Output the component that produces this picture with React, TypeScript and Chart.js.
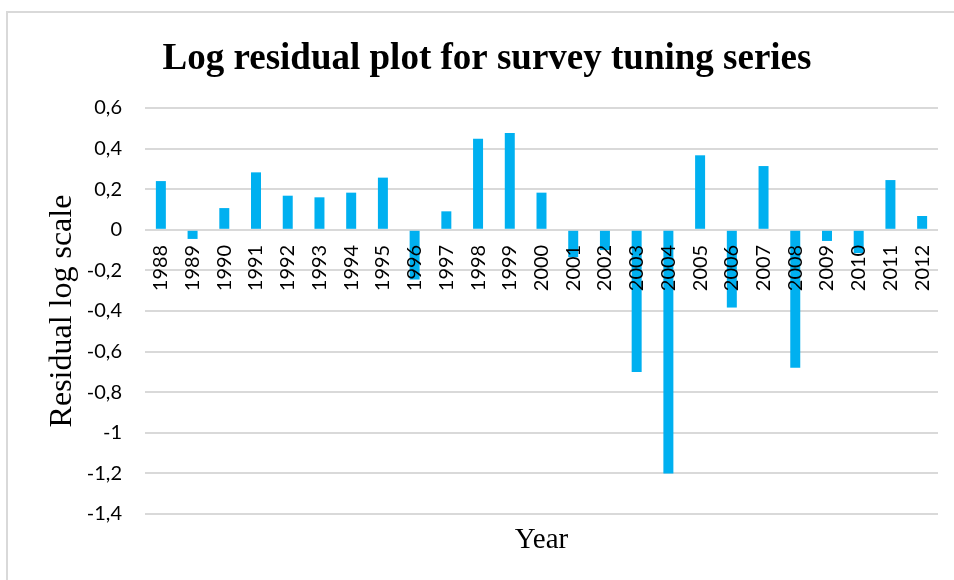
import React, { useEffect, useRef } from "react";
import { Chart, registerables } from "chart.js";

Chart.register(...registerables);

// Survey years
const years: string[] = [
  "1988", "1989", "1990", "1991", "1992", "1993", "1994", "1995", "1996",
  "1997", "1998", "1999", "2000", "2001", "2002", "2003", "2004", "2005",
  "2006", "2007", "2008", "2009", "2010", "2011", "2012",
];

// Log residuals for the survey tuning series
const residuals: number[] = [
  0.24, -0.045, 0.107, 0.283, 0.168, 0.16, 0.183, 0.257, -0.245,
  0.091, 0.449, 0.477, 0.183, -0.135, -0.1, -0.7, -1.2, 0.367,
  -0.383, 0.314, -0.679, -0.055, -0.115, 0.245, 0.068,
];

const yMin = -1.4;
const yMax = 0.6;
const yStep = 0.2;

const titleText = "Log residual plot for survey tuning series";
const yTitleText = "Residual log scale";
const xTitleText = "Year";

const fmtComma = (v: number) =>
  Number(v.toFixed(1)).toString().replace(".", ",");

const textPlugin = {
  id: "extraText",
  afterDraw(chart: any) {
    const { ctx, chartArea } = chart;
    ctx.save();
    ctx.fillStyle = "#000";
    ctx.textAlign = "center";
    ctx.textBaseline = "alphabetic";
    ctx.font = "bold 37px 'Liberation Serif', serif";
    ctx.fillText(titleText, 487, 69);
    ctx.font = "29px 'Liberation Serif', serif";
    ctx.fillText(xTitleText, (chartArea.left + chartArea.right) / 2, chartArea.bottom + 34);
    ctx.restore();
  },
};

export default function App() {
  const canvasRef = useRef<HTMLCanvasElement | null>(null);

  useEffect(() => {
    if (!canvasRef.current) return;
    const chart = new Chart(canvasRef.current, {
      type: "bar",
      data: {
        labels: years,
        datasets: [
          {
            data: residuals,
            backgroundColor: "#00B0F0",
            borderWidth: 0,
            categoryPercentage: 1,
            barPercentage: 0.315,
          },
        ],
      },
      options: {
        animation: false,
        responsive: false,
        maintainAspectRatio: false,
        layout: { padding: { left: 0, top: 108, right: 16, bottom: 66 } },
        plugins: {
          legend: { display: false },
          tooltip: { enabled: false },
          title: { display: false },
        },
        scales: {
          x: {
            type: "category",
            position: { y: 0 } as any,
            afterFit(scale: any) {
              scale.paddingLeft = 0;
              scale.paddingRight = 0;
            },
            grid: { display: false, drawTicks: false },
            border: { display: false },
            ticks: {
              z: 1,
              minRotation: 90,
              maxRotation: 90,
              autoSkip: false,
              padding: 15,
              color: "#000",
              font: { family: "Lato, 'Open Sans', sans-serif", size: 20 },
            },
          },
          y: {
            min: yMin,
            max: yMax,
            afterFit(scale: any) {
              scale.width = 145;
              scale.paddingTop = 0;
              scale.paddingBottom = 0;
            },
            grid: {
              color: "#d9d9d9",
              lineWidth: 2,
              drawTicks: false,
            },
            border: { display: false },
            ticks: {
              stepSize: yStep,
              padding: 23,
              color: "#000",
              font: { family: "Lato, 'Open Sans', sans-serif", size: 20 },
              callback: (v: any) => fmtComma(Number(v)),
            },
            title: {
              display: true,
              text: yTitleText,
              color: "#000",
              font: { family: "'Liberation Serif', serif", size: 32 },
              padding: { top: 43, bottom: 0 },
            },
          },
        },
      },
      plugins: [textPlugin],
    });
    return () => chart.destroy();
  }, []);

  return (
    <div
      style={{
        position: "fixed",
        left: 0,
        top: 0,
        width: 954,
        height: 580,
        overflow: "hidden",
        background: "#fff",
      }}
    >
      <div
        style={{
          position: "absolute",
          left: 6,
          top: 11,
          width: 1000,
          height: 700,
          borderLeft: "2px solid #d9d9d9",
          borderTop: "2px solid #d9d9d9",
        }}
      />
      <canvas
        ref={canvasRef}
        width={954}
        height={580}
        style={{ position: "absolute", left: 0, top: 0, width: 954, height: 580 }}
      />
    </div>
  );
}
